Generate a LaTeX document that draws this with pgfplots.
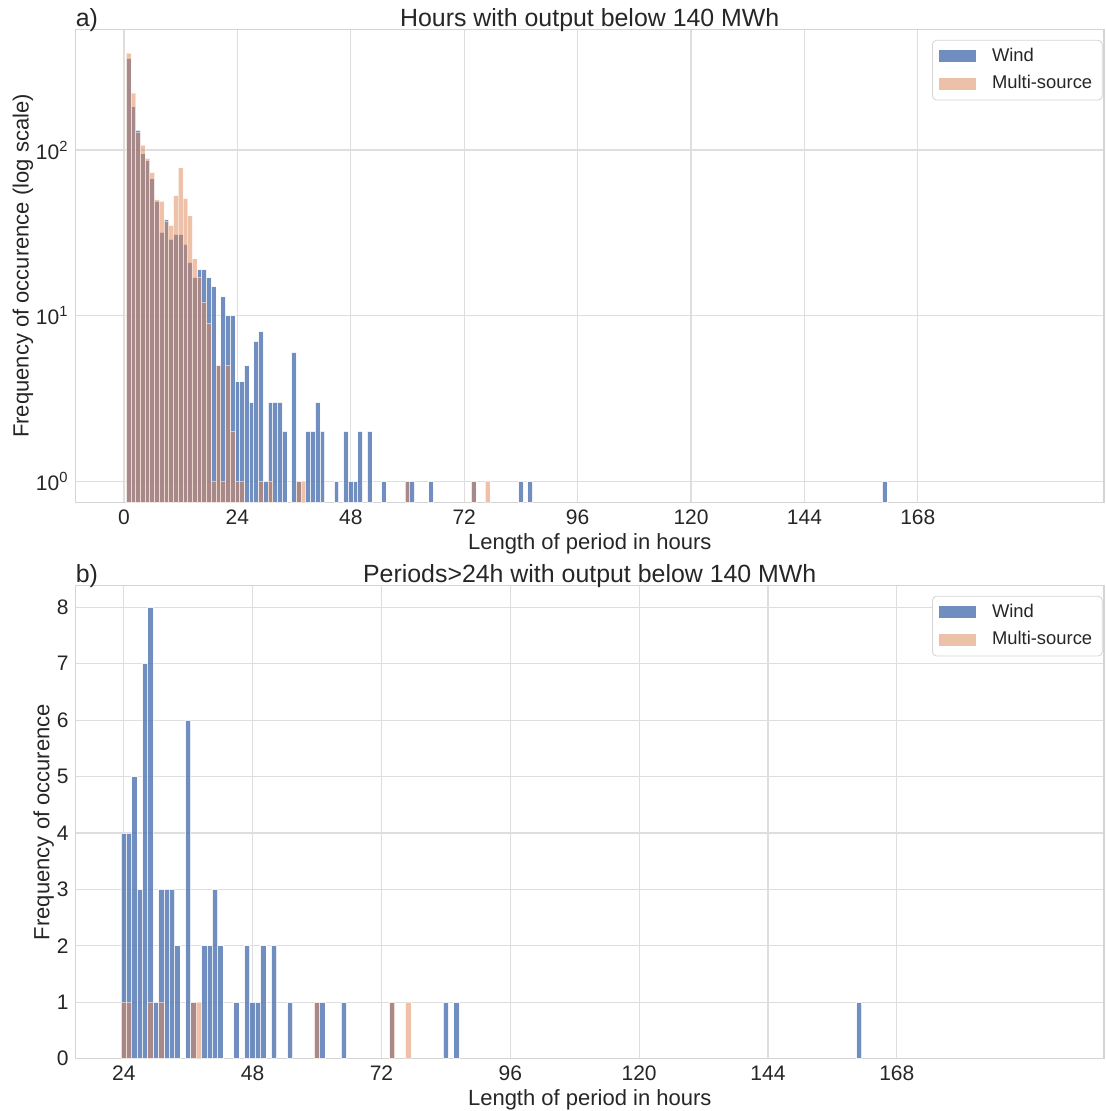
\documentclass[border=0pt]{standalone}
\usepackage{fontspec}
\setmainfont{Liberation Sans}
\usepackage{pgfplots}
\usepackage{pgfplotstable}
\pgfplotsset{compat=1.18}

\definecolor{windblue}{HTML}{4C72B0}
\definecolor{multiorange}{HTML}{DD8452}
\definecolor{gridgray}{RGB}{222,222,222}
\definecolor{spinegray}{RGB}{212,212,212}
\definecolor{txt}{RGB}{38,38,38}

% counts of periods per length (hours)
\pgfplotstableread{
len count
1 357
2 182
3 132
4 95
5 86
6 67
7 49
8 32
9 38
10 29
11 31
12 31
13 27
14 21
15 17
16 19
17 19
18 17
19 15
20 5
21 13
22 10
23 10
24 4
25 4
26 5
27 3
28 7
29 8
30 1
31 3
32 3
33 3
34 2
36 6
37 1
39 2
40 2
41 3
42 2
45 1
47 2
48 1
49 1
50 2
52 2
55 1
60 1
61 1
65 1
74 1
84 1
86 1
161 1
}\wind

\pgfplotstableread{
len count
1 385
2 221
3 127
4 107
5 89
6 73
7 50
8 49
9 37
10 35
11 53
12 78
13 51
14 40
15 22
16 17
17 12
18 9
19 1
20 5
21 1
22 5
23 2
24 1
25 1
29 1
31 1
37 1
38 1
60 1
74 1
77 1
}\multi

\newcommand{\titlefont}{\fontsize{12.45}{15}\selectfont}

\pgfplotsset{
  /pgf/number format/assume math mode=true,
  panel/.style={
    scale only axis,
    width=514.25pt, height=236.7pt,
    anchor=south west,
    axis line style={spinegray, line width=0.6pt},
    grid=major,
    major grid style={gridgray, line width=0.6pt},
    major tick length=0pt, minor tick length=0pt,
    tick style={draw=none},
    tick label style={font=\fontsize{10.5}{12}\selectfont, text=txt},
    label style={font=\fontsize{11}{13}\selectfont, text=txt},
    every axis title/.style={at={(0.5,1)}, anchor=base, yshift=1.6pt,
      font=\titlefont, text=txt},
    xlabel={Length of period in hours},
    xlabel shift=-2.5pt,
    ylabel shift=-5.5pt,
    legend cell align=left,
    legend style={at={(1,1)}, anchor=north east, xshift=-0.7pt, yshift=-5.3pt,
      draw=spinegray, rounded corners=2pt, text=txt,
      font=\fontsize{9.2}{11}\selectfont,
      inner xsep=3pt, inner ysep=2pt, row sep=1.5pt},
    legend image code/.code={%
      \path[##1, draw=none, sharp corners] (0pt,-3pt) rectangle (18.5pt,3pt);
      \path (24.5pt,0pt);},
  },
  windbar/.style={ybar, bar width=1, bar shift=0pt, fill=windblue,
    draw=white, line width=0.5pt, opacity=0.8},
  multibar/.style={ybar, bar width=1, bar shift=0pt, fill=multiorange,
    draw=white, line width=0.5pt, opacity=0.5},
}

\begin{document}
\begin{tikzpicture}
\path[use as bounding box] (-37.75pt,-304.15pt) rectangle (514.75pt,251.35pt);

\begin{axis}[panel, name=top, at={(0,0)},
    title={Hours with output below 140 MWh},
    ylabel={Frequency of occurence (log scale)},
    ymode=log, log origin y=infty,
    xmin=-10.26, xmax=207.4, ymin=0.743, ymax=536,
    xtick={0,24,48,72,96,120,144,168},
    ytick={1,10,100},
    yticklabels={10\textsuperscript{0},10\textsuperscript{1},10\textsuperscript{2}},
  ]
  \addplot[windbar] table[x=len, y=count] {\wind};
  \addlegendentry{Wind}
  \addplot[multibar] table[x=len, y=count] {\multi};
  \addlegendentry{Multi-source}
\end{axis}
\node[anchor=base west, font=\titlefont, text=txt, inner sep=0pt]
  at ([yshift=1.6pt]top.north west) {a)};

\begin{axis}[panel, name=bottom, at={(0,-278pt)},
    title={Periods>24h with output below 140 MWh},
    ylabel={Frequency of occurence},
    xmin=15, xmax=206.6, ymin=0, ymax=8.39,
    xtick={24,48,72,96,120,144,168},
    ytick={0,1,2,3,4,5,6,7,8},
  ]
  \addplot[windbar, restrict x to domain=24:200] table[x=len, y=count] {\wind};
  \addlegendentry{Wind}
  \addplot[multibar, restrict x to domain=24:200] table[x=len, y=count] {\multi};
  \addlegendentry{Multi-source}
\end{axis}
\node[anchor=base west, font=\titlefont, text=txt, inner sep=0pt]
  at ([yshift=1.6pt]bottom.north west) {b)};
\end{tikzpicture}
\end{document}
